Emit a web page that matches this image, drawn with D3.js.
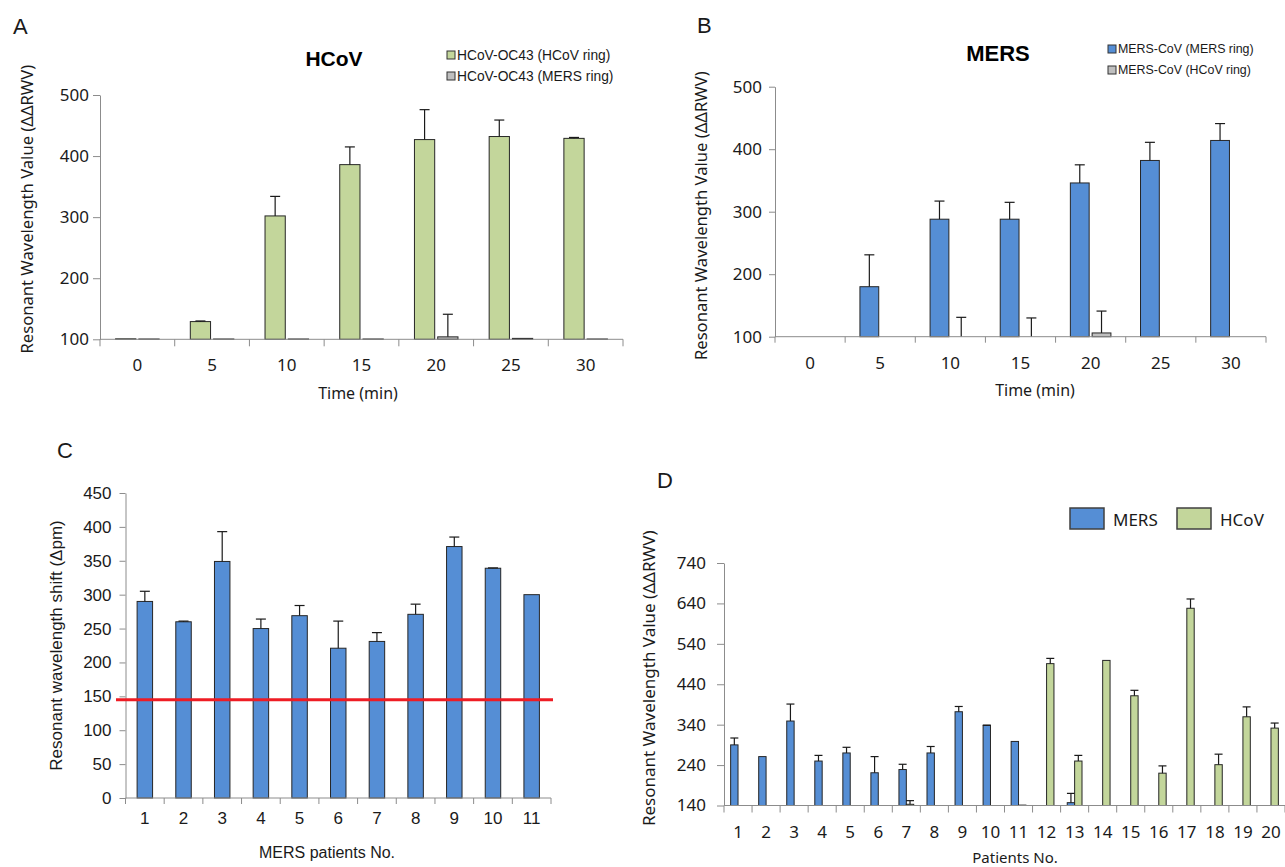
<!DOCTYPE html>
<html>
<head>
<meta charset="utf-8">
<script src="https://cdn.jsdelivr.net/npm/d3@7"></script>
<style>
  body { margin: 0; background: #fff; }
  svg { display: block; }
</style>
</head>
<body>
<script>
// ---- data ----
const timePoints = ["0", "5", "10", "15", "20", "25", "30"];

// panel A: HCoV-OC43 sample
const hcovOnHcovRing = [100.8, 129, 302, 386, 427, 432, 429];
const hcovOnHcovRingErr = [0, 1, 32, 29, 49, 27, 1.5];
const hcovOnMersRing = [100.5, 100.5, 100.5, 100.5, 104, 101.5, 100.5];
const hcovOnMersRingErr = [0, 0, 0, 0, 37, 0, 0];

// panel B: MERS-CoV sample
const mersOnMersRing = [100, 180, 288, 288, 346, 382, 414];
const mersOnMersRingErr = [0, 51, 29, 27, 29, 29, 27];
const mersOnHcovRing = [100, 100, 100, 100, 106, 100, 100];
const mersOnHcovRingErr = [0, 0, 31, 30, 35, 0, 0];

// panel C: MERS patients
const mersPatients = ["1", "2", "3", "4", "5", "6", "7", "8", "9", "10", "11"];
const mersShift = [290, 260, 349, 250, 269, 221, 231, 271, 371, 339, 300];
const mersShiftErr = [15, 1, 44, 14, 15, 40, 13, 15, 14, 0.5, 0];
const cutoff = 145;

// panel D: all patients
const allPatients = ["1", "2", "3", "4", "5", "6", "7", "8", "9", "10",
  "11", "12", "13", "14", "15", "16", "17", "18", "19", "20"];
const patientMers = [290, 261, 349, 250, 270, 221, 229, 270, 372, 338,
  298.5, 140, 147, 140, 140, 140, 140, 140, 140, 140];
const patientMersErr = [17, 0, 42, 14, 14, 40, 13, 16, 13, 1,
  0, 0, 23, 0, 0, 0, 0, 0, 0, 0];
const patientHcov = [140, 140, 140, 140, 140, 140, 143, 140, 140, 140,
  141, 491, 250, 499, 411.5, 220, 628, 241, 359.5, 331.5];
const patientHcovErr = [0, 0, 0, 0, 0, 0, 9, 0, 0, 0,
  0, 13, 14, 0, 13.5, 18, 23, 26, 24.5, 12.5];

const blue = "#558ed5", green = "#c3d69b", grey = "#bfbfbf";
const axisCol = "#8c8c8c";
const gothic = "'Noto Sans', 'Open Sans', sans-serif";
const arial = "'Liberation Sans', Arial, sans-serif";

const svg = d3.select("body").append("svg")
  .attr("width", 1285)
  .attr("height", 867);

function barPanel(o) {
  const g = svg.append("g");

  const x0 = d3.scaleBand().domain(o.cats).range([o.left, o.right]);
  const x1 = d3.scaleBand()
    .domain(o.series.map((s, i) => i))
    .range([0, x0.bandwidth()])
    .paddingInner(o.pi)
    .paddingOuter(o.po);
  const y = d3.scaleLinear().domain(o.yDomain).range([o.bottom, o.top]);

  // y axis
  const ya = g.append("g")
    .attr("transform", "translate(" + o.left + ",0)")
    .call(d3.axisLeft(y).tickValues(o.yTicks).tickSize(o.tickLen).tickPadding(o.tickPad).tickSizeOuter(0));
  ya.select(".domain").attr("stroke", axisCol);
  ya.selectAll(".tick line").attr("stroke", axisCol);
  ya.selectAll(".tick text")
    .attr("font-family", o.font)
    .attr("font-size", o.tickFont)
    .attr("fill", "#1a1a1a");

  // x axis: labels centred, tick marks on category borders
  const xa = g.append("g")
    .attr("transform", "translate(0," + o.bottom + ")")
    .call(d3.axisBottom(x0).tickSize(0).tickPadding(o.xPad));
  xa.select(".domain").remove();
  xa.selectAll(".tick text")
    .attr("font-family", o.font)
    .attr("font-size", o.tickFont)
    .attr("fill", "#1a1a1a");

  // bars
  o.series.forEach((s, si) => {
    const bars = g.append("g");
    bars.selectAll("rect")
      .data(s.values)
      .enter()
      .append("rect")
      .attr("x", (d, i) => x0(o.cats[i]) + x1(si))
      .attr("y", d => y(d))
      .attr("width", x1.bandwidth())
      .attr("height", d => Math.max(0, y(o.yDomain[0]) - y(d)))
      .attr("fill", s.color)
      .attr("stroke", "#262626")
      .attr("stroke-width", 1);

    // upper error bars
    const eb = g.append("g").attr("stroke", "#1a1a1a").attr("stroke-width", 1.2);
    s.values.forEach((v, i) => {
      const e = s.err[i];
      if (!e) return;
      const cx = x0(o.cats[i]) + x1(si) + x1.bandwidth() / 2;
      eb.append("line").attr("x1", cx).attr("x2", cx).attr("y1", y(v)).attr("y2", y(v + e));
      eb.append("line").attr("x1", cx - o.cap / 2).attr("x2", cx + o.cap / 2)
        .attr("y1", y(v + e)).attr("y2", y(v + e));
    });
  });

  // baseline + border ticks
  g.append("line")
    .attr("x1", o.left).attr("x2", o.right)
    .attr("y1", o.bottom).attr("y2", o.bottom)
    .attr("stroke", axisCol);
  const borders = o.cats.map(c => x0(c)).concat([x0.range()[1]]);
  g.append("g").selectAll("line")
    .data(borders)
    .enter()
    .append("line")
    .attr("x1", d => d).attr("x2", d => d)
    .attr("y1", o.bottom).attr("y2", o.bottom + o.tickLen)
    .attr("stroke", axisCol);

  // axis titles
  g.append("text")
    .attr("transform", "translate(" + o.yLabelX + "," + ((o.top + o.bottom) / 2 + (o.yLabelDy || 0)) + ") rotate(-90)")
    .attr("text-anchor", "middle")
    .attr("dominant-baseline", "central")
    .attr("font-family", o.font)
    .attr("font-size", o.labelFont)
    .attr("fill", "#1a1a1a")
    .text(o.yLabel);
  g.append("text")
    .attr("x", o.xLabelX)
    .attr("y", o.xLabelY)
    .attr("text-anchor", "middle")
    .attr("dominant-baseline", "central")
    .attr("font-family", o.font)
    .attr("font-size", o.xLabelFont || o.labelFont)
    .attr("fill", "#1a1a1a")
    .text(o.xLabel);

  return { g: g, x0: x0, y: y };
}

function panelLetter(t, x, y) {
  svg.append("text")
    .attr("x", x).attr("y", y)
    .attr("dominant-baseline", "central")
    .attr("font-family", arial)
    .attr("font-size", 22)
    .attr("fill", "#1a1a1a")
    .text(t);
}

function smallLegend(items, x, y0, dy, size) {
  items.forEach((it, i) => {
    const yy = y0 + i * dy;
    svg.append("rect")
      .attr("x", x).attr("y", yy - 4)
      .attr("width", 8).attr("height", 8)
      .attr("fill", it.color)
      .attr("stroke", "#333").attr("stroke-width", 1);
    svg.append("text")
      .attr("x", x + 10).attr("y", yy)
      .attr("dominant-baseline", "central")
      .attr("font-family", arial)
      .attr("font-size", size)
      .attr("fill", "#1a1a1a")
      .text(it.name);
  });
}

// ---- A ----
panelLetter("A", 13, 26);
barPanel({
  cats: timePoints,
  series: [
    { values: hcovOnHcovRing, err: hcovOnHcovRingErr, color: green },
    { values: hcovOnMersRing, err: hcovOnMersRingErr, color: grey }
  ],
  left: 100, right: 623, top: 95, bottom: 339.3,
  yDomain: [100, 500], yTicks: [100, 200, 300, 400, 500],
  pi: 0.13, po: 0.67, cap: 10,
  tickLen: 7, tickPad: 4, xPad: 20, tickFont: 17, font: gothic,
  yLabel: "Resonant Wavelength Value (ΔΔRWV)", yLabelX: 26, yLabelDy: -8, labelFont: 16.6,
  xLabel: "Time (min)", xLabelX: 358, xLabelY: 393, xLabelFont: 16
});
svg.append("text")
  .attr("x", 334).attr("y", 58)
  .attr("text-anchor", "middle").attr("dominant-baseline", "central")
  .attr("font-family", arial).attr("font-weight", "bold").attr("font-size", 21)
  .text("HCoV");
smallLegend([
  { name: "HCoV-OC43 (HCoV ring)", color: green },
  { name: "HCoV-OC43 (MERS ring)", color: grey }
], 447, 55, 21, 13.8);

// ---- B ----
panelLetter("B", 697, 25);
barPanel({
  cats: timePoints,
  series: [
    { values: mersOnMersRing, err: mersOnMersRingErr, color: blue },
    { values: mersOnHcovRing, err: mersOnHcovRingErr, color: grey }
  ],
  left: 775, right: 1266, top: 86.7, bottom: 336.7,
  yDomain: [100, 500], yTicks: [100, 200, 300, 400, 500],
  pi: 0.136, po: 0.68, cap: 10,
  tickLen: 6, tickPad: 7, xPad: 20, tickFont: 17, font: gothic,
  yLabel: "Resonant Wavelength Value (ΔΔRWV)", yLabelX: 700, yLabelDy: 4, labelFont: 16.6,
  xLabel: "Time (min)", xLabelX: 1035, xLabelY: 390, xLabelFont: 16
});
svg.append("text")
  .attr("x", 998).attr("y", 53)
  .attr("text-anchor", "middle").attr("dominant-baseline", "central")
  .attr("font-family", arial).attr("font-weight", "bold").attr("font-size", 22)
  .text("MERS");
smallLegend([
  { name: "MERS-CoV (MERS ring)", color: blue },
  { name: "MERS-CoV (HCoV ring)", color: grey }
], 1108, 49, 21, 12.4);

// ---- C ----
panelLetter("C", 57, 450);
const pc = barPanel({
  cats: mersPatients,
  series: [{ values: mersShift, err: mersShiftErr, color: blue }],
  left: 125.5, right: 551, top: 493, bottom: 798,
  yDomain: [0, 450], yTicks: d3.range(0, 451, 50),
  pi: 0, po: 0.75, cap: 10,
  tickLen: 6, tickPad: 8, xPad: 14, tickFont: 17, font: arial,
  yLabel: "Resonant wavelength shift (Δpm)", yLabelX: 56, labelFont: 17,
  xLabel: "MERS patients No.", xLabelX: 327, xLabelY: 852, xLabelFont: 16
});
pc.g.append("line")
  .attr("x1", 116).attr("x2", 553)
  .attr("y1", pc.y(cutoff)).attr("y2", pc.y(cutoff))
  .attr("stroke", "#ee1c24")
  .attr("stroke-width", 3);

// ---- D ----
panelLetter("D", 657, 480);
barPanel({
  cats: allPatients,
  series: [
    { values: patientMers, err: patientMersErr, color: blue },
    { values: patientHcov, err: patientHcovErr, color: green }
  ],
  left: 724, right: 1285, top: 563, bottom: 805.5,
  yDomain: [140, 740], yTicks: d3.range(140, 741, 100),
  pi: 0, po: 0.9, cap: 8,
  tickLen: 7, tickPad: 11, xPad: 20, tickFont: 17, font: gothic,
  yLabel: "Resonant Wavelength Value (ΔΔRWV)", yLabelX: 648, yLabelDy: -6, labelFont: 17,
  xLabel: "Patients No.", xLabelX: 1015, xLabelY: 857, xLabelFont: 15
});
const dLegend = [{ name: "MERS", color: blue, x: 1070 }, { name: "HCoV", color: green, x: 1177 }];
dLegend.forEach(it => {
  svg.append("rect")
    .attr("x", it.x).attr("y", 508)
    .attr("width", 34).attr("height", 21)
    .attr("fill", it.color)
    .attr("stroke", "#404040").attr("stroke-width", 1.5);
  svg.append("text")
    .attr("x", it.x + 43).attr("y", 519)
    .attr("dominant-baseline", "central")
    .attr("font-family", gothic)
    .attr("font-size", 17)
    .attr("fill", "#1a1a1a")
    .text(it.name);
});
</script>
</body>
</html>
